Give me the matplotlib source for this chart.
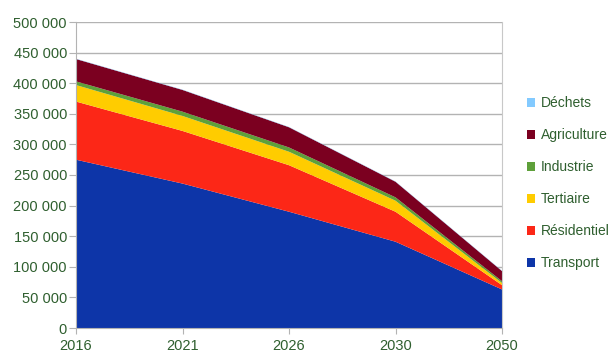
import matplotlib
matplotlib.use("Agg")
import matplotlib.pyplot as plt
from matplotlib.patches import Patch
from matplotlib.ticker import FuncFormatter

years = ["2016", "2021", "2026", "2030", "2050"]
transport = [275000, 236000, 190000, 141000, 63000]
residentiel = [95000, 86000, 76000, 49000, 7000]
tertiaire = [27000, 24500, 22000, 18000, 3500]
industrie = [6000, 7000, 7000, 5500, 3000]
agriculture = [36500, 35500, 33000, 25500, 16500]
dechets = [500, 500, 500, 500, 500]

labels = ["Transport", "Résidentiel", "Tertiaire", "Industrie", "Agriculture", "Déchets"]
colors = ["#0d35a8", "#fc2717", "#ffcc00", "#5ea03a", "#7b0020", "#83caff"]
text_color = "#2f5f2f"

plt.rcParams['font.family'] = ['Liberation Sans', 'DejaVu Sans']

fig = plt.figure(figsize=(6.11, 3.56), dpi=100)
ax = fig.add_axes([76/611, 28/356, 426/611, 306/356])

x = list(range(len(years)))
ax.stackplot(x, transport, residentiel, tertiaire, industrie, agriculture, dechets,
             colors=colors, linewidth=0, zorder=2)

ax.set_xlim(0, len(years) - 1)
ax.set_ylim(0, 500000)
ax.set_yticks(range(0, 500001, 50000))
ax.yaxis.set_major_formatter(FuncFormatter(lambda v, p: f"{int(v):,}".replace(",", " ")))
ax.set_xticks(x)
ax.set_xticklabels(years)

ax.grid(axis='y', color="#b3b3b3", linewidth=1, zorder=1)
ax.set_axisbelow(True)
ax.spines["top"].set_visible(False)
ax.spines["right"].set_color("#c8c8c8")
ax.spines["right"].set_zorder(3)
for s in ["left", "bottom"]:
    ax.spines[s].set_color("#b3b3b3")
    ax.spines[s].set_zorder(3)
ax.tick_params(axis='y', colors="#b3b3b3", labelcolor=text_color, labelsize=10.5, length=5, pad=1.5)
ax.tick_params(axis='x', colors="#b3b3b3", labelcolor=text_color, labelsize=10.5, length=4, pad=4)

handles = [Patch(facecolor=c, edgecolor='none') for c in colors][::-1]
fig.legend(handles, labels[::-1], loc='upper left',
           bbox_to_anchor=(527/611, 1 - 96/356), bbox_transform=fig.transFigure,
           frameon=False, fontsize=10, labelcolor=text_color,
           handlelength=0.6, handleheight=0.6, handletextpad=0.4,
           labelspacing=1.3, borderpad=0, borderaxespad=0)

fig.savefig("out.png", dpi=100)
